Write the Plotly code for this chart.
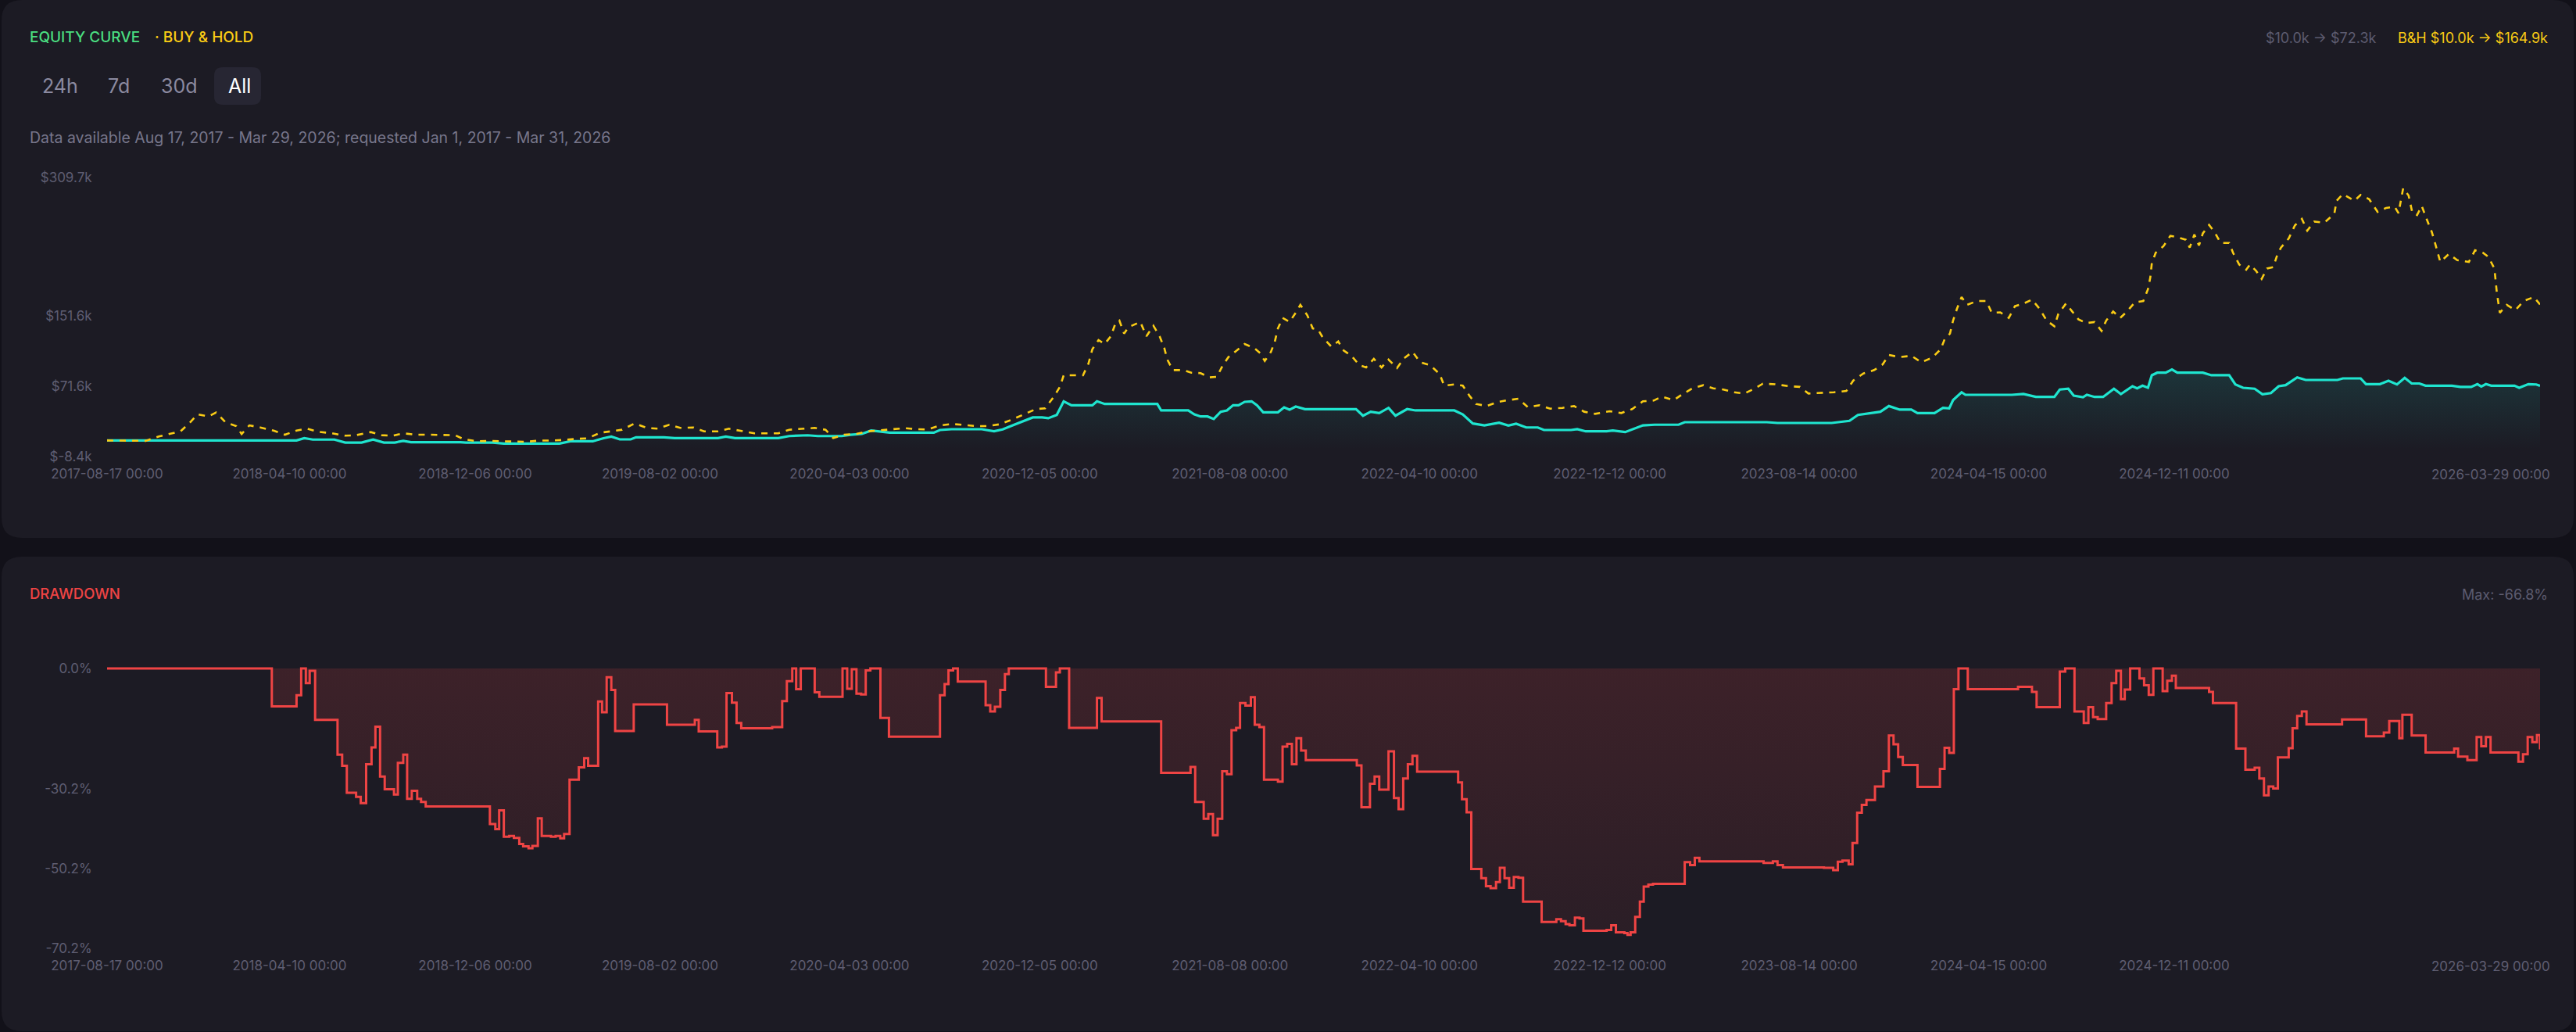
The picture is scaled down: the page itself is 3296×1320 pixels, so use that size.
import pandas as pd
import plotly.graph_objects as go

W, H = 3296, 1320
START = "2017-08-17"

# ---------------- data ----------------
x_tick_dates = ["2017-08-17", "2018-04-10", "2018-12-06", "2019-08-02", "2020-04-03",
                "2020-12-05", "2021-08-08", "2022-04-10", "2022-12-12", "2023-08-14",
                "2024-04-15", "2024-12-11"]
x_last_date = "2026-03-29"

# Buy & Hold equity (k$), by day offset from START
bh_day = [0, 35, 50, 67, 81, 95, 106, 117, 131, 141,
          153, 167, 174, 184, 198, 216, 230, 245, 259, 273,
          290, 308, 322, 341, 355, 369, 383, 400, 418, 436,
          450, 461, 478, 496, 513, 528, 542, 560, 574, 592,
          606, 621, 638, 652, 666, 682, 698, 712, 727, 741,
          758, 772, 790, 804, 819, 837, 854, 868, 882, 900,
          915, 929, 939, 953, 969, 984, 1000, 1016, 1031, 1046,
          1061, 1077, 1092, 1108, 1124, 1139, 1154, 1170, 1185, 1201,
          1213, 1224, 1232, 1237, 1251, 1262, 1269, 1274, 1282, 1290,
          1298, 1304, 1309, 1315, 1321, 1329, 1336, 1344, 1353, 1361,
          1367, 1371, 1378, 1392, 1402, 1414, 1425, 1435, 1443, 1450,
          1460, 1471, 1483, 1491, 1497, 1505, 1510, 1514, 1520, 1529,
          1537, 1543, 1552, 1559, 1566, 1572, 1583, 1592, 1599, 1609,
          1619, 1628, 1638, 1648, 1657, 1668, 1677, 1688, 1698, 1711,
          1723, 1729, 1742, 1753, 1762, 1770, 1784, 1799, 1812, 1825,
          1837, 1852, 1866, 1882, 1897, 1910, 1924, 1943, 1958, 1972,
          1986, 2000, 2010, 2026, 2036, 2050, 2064, 2077, 2090, 2104,
          2117, 2130, 2141, 2157, 2175, 2189, 2200, 2217, 2233, 2249,
          2258, 2271, 2285, 2296, 2304, 2318, 2333, 2346, 2360, 2371,
          2376, 2383, 2387, 2392, 2398, 2405, 2418, 2430, 2437, 2448,
          2459, 2467, 2478, 2489, 2499, 2508, 2518, 2523, 2533, 2541,
          2549, 2559, 2570, 2579, 2585, 2594, 2603, 2612, 2622, 2633,
          2639, 2642, 2644, 2649, 2659, 2668, 2677, 2688, 2693, 2699,
          2705, 2710, 2718, 2725, 2733, 2744, 2749, 2757, 2766, 2771,
          2779, 2786, 2793, 2801, 2806, 2811, 2821, 2829, 2838, 2845,
          2854, 2867, 2873, 2880, 2883, 2891, 2906, 2914, 2925, 2936,
          2947, 2958, 2963, 2969, 2976, 2981, 2987, 2993, 2998, 3006,
          3010, 3017, 3028, 3039, 3054, 3062, 3072, 3079, 3087, 3090,
          3094, 3103, 3114, 3125, 3138, 3146]
bh_val = [10.0, 10.0, 9.5, 14.5, 17.4, 20.4, 29.3, 39.7, 37.3, 41.8,
          30.8, 26.3, 17.4, 27.2, 24.8, 21.0, 16.5, 21.3, 23.4, 19.8,
          18.3, 15.4, 16.0, 19.5, 16.0, 15.4, 18.1, 16.5, 16.5, 16.5,
          16.0, 11.5, 9.2, 9.4, 9.2, 8.5, 8.5, 9.9, 9.9, 10.6,
          11.8, 12.4, 18.9, 20.4, 22.2, 29.3, 24.3, 23.4, 27.9, 24.3,
          24.8, 20.4, 20.4, 23.4, 21.3, 18.1, 18.1, 18.1, 22.2, 23.4,
          24.3, 22.2, 12.7, 16.5, 17.4, 20.4, 21.9, 22.8, 24.0, 22.8,
          22.5, 27.0, 28.8, 27.9, 26.4, 26.4, 28.4, 33.7, 39.7, 45.7,
          46.6, 59.6, 70.9, 84.3, 84.3, 84.3, 97.6, 113.9, 124.4, 119.9,
          128.8, 143.7, 146.6, 131.8, 139.2, 142.2, 145.1, 128.8, 140.7, 128.8,
          115.5, 102.1, 90.2, 90.2, 87.2, 86.7, 81.9, 82.5, 96.1, 105.0,
          112.5, 119.9, 115.5, 109.5, 100.6, 111.0, 122.8, 137.7, 149.6, 145.1,
          155.5, 164.5, 152.6, 137.7, 136.2, 127.3, 117.0, 122.8, 112.5, 106.5,
          96.1, 93.2, 103.0, 93.2, 102.1, 92.6, 103.6, 111.0, 99.1, 95.6,
          85.8, 72.4, 73.8, 72.4, 60.5, 51.6, 49.2, 54.0, 56.0, 57.5,
          48.0, 50.1, 46.2, 47.1, 49.2, 42.7, 40.3, 43.3, 41.2, 45.7,
          54.6, 55.5, 59.9, 56.0, 62.0, 69.4, 73.0, 69.4, 68.0, 64.9,
          63.5, 68.9, 74.7, 74.0, 71.8, 71.0, 63.5, 64.0, 64.9, 66.4,
          78.3, 86.3, 90.2, 96.7, 107.4, 105.0, 106.5, 99.1, 104.4, 113.9,
          125.2, 131.8, 146.6, 160.0, 173.4, 164.5, 168.9, 168.9, 155.5, 156.0,
          149.6, 163.0, 166.0, 170.4, 160.0, 146.6, 140.1, 154.0, 166.0, 157.0,
          148.1, 143.7, 145.0, 134.8, 146.6, 157.0, 149.6, 157.0, 167.4, 168.9,
          182.3, 195.6, 212.0, 223.9, 231.3, 243.2, 241.7, 238.7, 229.8, 244.6,
          232.2, 246.1, 255.6, 247.6, 235.1, 235.1, 223.9, 210.5, 204.6, 210.5,
          203.1, 194.1, 206.0, 207.5, 220.9, 229.8, 240.2, 255.1, 262.5, 249.1,
          259.5, 258.0, 262.5, 268.5, 283.2, 290.7, 283.2, 289.9, 285.0, 270.5,
          275.0, 276.4, 269.0, 297.5, 289.2, 269.0, 266.9, 277.3, 265.4, 247.6,
          235.7, 213.5, 222.4, 215.5, 213.5, 226.8, 223.9, 219.4, 206.0, 179.3,
          155.5, 164.5, 158.5, 168.9, 173.4, 164.9]

# Strategy equity (k$)
eq_day = [0, 209, 225, 245, 255, 266, 294, 308, 329, 344,
          358, 372, 383, 393, 457, 464, 499, 513, 585, 599,
          628, 642, 652, 663, 677, 684, 720, 734, 790, 800,
          812, 868, 882, 896, 906, 919, 950, 961, 976, 988,
          1012, 1069, 1077, 1092, 1131, 1147, 1158, 1173, 1189, 1197,
          1209, 1217, 1228, 1237, 1247, 1274, 1280, 1290, 1358, 1363,
          1398, 1406, 1414, 1423, 1431, 1440, 1448, 1456, 1463, 1471,
          1480, 1487, 1495, 1514, 1522, 1529, 1537, 1549, 1615, 1624,
          1634, 1645, 1657, 1666, 1681, 1692, 1742, 1753, 1766, 1781,
          1800, 1812, 1822, 1835, 1850, 1858, 1893, 1901, 1912, 1939,
          1947, 1963, 1986, 2001, 2032, 2040, 2146, 2160, 2230, 2241,
          2253, 2264, 2282, 2293, 2304, 2318, 2333, 2341, 2363, 2374,
          2382, 2387, 2398, 2403, 2463, 2478, 2494, 2518, 2525, 2536,
          2543, 2555, 2560, 2570, 2581, 2595, 2604, 2619, 2625, 2632,
          2639, 2644, 2651, 2662, 2670, 2677, 2710, 2721, 2744, 2752,
          2762, 2777, 2787, 2798, 2808, 2817, 2832, 2843, 2884, 2891,
          2914, 2921, 2939, 2950, 2961, 2971, 2980, 2990, 2998, 3032,
          3043, 3057, 3065, 3070, 3076, 3083, 3113, 3119, 3131, 3141,
          3146]
eq_val = [10.0, 10.0, 9.6, 10.0, 12.6, 11.0, 11.0, 7.6, 7.6, 11.0,
          7.6, 7.6, 9.5, 8.0, 8.0, 7.6, 7.6, 6.5, 6.5, 9.0,
          9.0, 12.6, 14.4, 11.2, 11.2, 13.6, 13.6, 12.6, 12.6, 14.4,
          12.6, 12.6, 15.0, 15.4, 15.9, 15.0, 15.0, 16.5, 17.4, 21.3,
          18.9, 18.9, 21.9, 22.8, 22.8, 20.4, 22.5, 27.9, 33.7, 36.2,
          36.2, 35.3, 39.1, 54.6, 50.1, 50.1, 54.6, 51.6, 51.6, 44.2,
          44.2, 39.7, 37.3, 37.3, 34.4, 42.7, 44.2, 50.1, 50.1, 54.0,
          54.6, 50.1, 42.1, 42.1, 47.7, 45.0, 48.6, 45.7, 45.7, 38.2,
          42.7, 41.2, 47.1, 38.2, 45.7, 44.2, 44.2, 39.7, 29.3, 27.2,
          30.2, 26.9, 29.0, 24.8, 24.8, 21.9, 21.9, 22.8, 20.4, 20.4,
          21.3, 19.5, 27.2, 27.9, 27.9, 30.8, 30.8, 29.9, 29.9, 30.8,
          32.3, 39.1, 41.2, 42.7, 49.2, 45.1, 45.1, 41.2, 41.2, 47.1,
          46.5, 56.0, 64.9, 62.0, 62.0, 62.9, 59.6, 59.6, 68.0, 68.9,
          61.1, 59.3, 62.0, 59.6, 59.6, 68.9, 62.9, 71.8, 69.4, 72.4,
          70.0, 84.3, 87.2, 87.2, 90.8, 87.2, 87.2, 84.3, 84.3, 73.8,
          70.0, 68.9, 62.6, 64.0, 71.8, 73.0, 81.9, 78.9, 78.9, 80.7,
          80.7, 74.2, 74.2, 78.0, 73.9, 81.3, 74.9, 74.9, 72.4, 72.4,
          71.0, 71.0, 74.2, 71.5, 74.2, 72.4, 72.4, 70.0, 74.2, 73.8,
          72.3]

# Drawdown (%), step values starting at each day offset
dd_day = [0, 213, 245, 251, 257, 262, 269, 298, 304, 310,
          322, 328, 335, 342, 347, 353, 359, 371, 376, 383,
          388, 394, 401, 406, 412, 495, 502, 507, 513, 520,
          526, 533, 538, 545, 550, 557, 562, 574, 580, 586,
          591, 598, 610, 617, 622, 635, 640, 646, 652, 657,
          681, 724, 760, 765, 789, 795, 801, 808, 814, 820,
          860, 873, 879, 886, 891, 897, 915, 921, 951, 957,
          963, 969, 975, 981, 987, 1000, 1011, 1077, 1083, 1088,
          1094, 1100, 1136, 1142, 1148, 1155, 1161, 1166, 1214, 1227,
          1232, 1244, 1280, 1286, 1363, 1401, 1407, 1418, 1424, 1430,
          1436, 1442, 1448, 1454, 1460, 1465, 1472, 1479, 1484, 1490,
          1496, 1514, 1520, 1526, 1532, 1538, 1544, 1550, 1616, 1622,
          1633, 1639, 1645, 1657, 1664, 1670, 1676, 1682, 1688, 1694,
          1747, 1752, 1758, 1764, 1777, 1783, 1789, 1796, 1801, 1807,
          1813, 1819, 1825, 1831, 1855, 1874, 1880, 1886, 1891, 1898,
          1904, 1909, 1939, 1945, 1951, 1962, 1966, 1970, 1976, 1982,
          1987, 1993, 1999, 2040, 2047, 2053, 2059, 2142, 2154, 2160,
          2167, 2220, 2232, 2238, 2244, 2252, 2257, 2263, 2269, 2275,
          2286, 2297, 2304, 2310, 2316, 2322, 2341, 2370, 2376, 2382,
          2388, 2394, 2406, 2471, 2489, 2495, 2525, 2532, 2544, 2556,
          2562, 2568, 2574, 2585, 2592, 2598, 2604, 2609, 2616, 2628,
          2634, 2640, 2646, 2658, 2664, 2670, 2675, 2718, 2723, 2753,
          2765, 2777, 2783, 2789, 2795, 2801, 2807, 2821, 2826, 2832,
          2838, 2844, 2890, 2921, 2944, 2951, 2964, 2968, 2980, 2998,
          3035, 3040, 3052, 3064, 3070, 3076, 3082, 3118, 3124, 3130,
          3136, 3142, 3146]
dd_val = [0.0, -9.5, -6.7, 0.0, -3.7, -0.6, -12.9, -21.6, -24.4, -31.2,
          -32.2, -33.8, -24.0, -19.8, -14.6, -27.1, -30.3, -31.6, -23.7, -21.6,
          -32.7, -30.7, -32.7, -33.5, -34.6, -39.0, -40.3, -35.6, -42.2, -42.0,
          -42.5, -44.0, -44.6, -45.1, -44.5, -37.6, -42.0, -42.2, -42.0, -42.6,
          -41.5, -27.9, -24.8, -22.5, -24.4, -8.3, -11.0, -2.2, -5.4, -15.7,
          -9.0, -14.1, -12.9, -15.8, -19.8, -19.6, -6.2, -8.6, -13.7, -15.0,
          -14.7, -8.2, -3.2, 0.0, -5.2, 0.0, -6.0, -7.1, 0.0, -5.1,
          -0.2, -6.3, -6.5, -0.5, 0.0, -12.4, -17.1, -6.7, -3.9, -0.5,
          0.0, -3.3, -9.2, -10.8, -9.6, -5.4, -1.4, 0.0, -4.6, -1.0,
          0.0, -14.9, -7.4, -13.3, -26.2, -24.7, -33.5, -37.7, -36.5, -41.8,
          -37.7, -25.8, -26.5, -15.5, -14.9, -8.7, -9.3, -7.2, -14.1, -14.7,
          -27.9, -28.4, -19.6, -18.9, -24.0, -17.5, -20.6, -23.0, -24.3, -34.8,
          -28.9, -27.1, -30.4, -20.8, -32.5, -35.3, -27.6, -24.0, -21.9, -25.9,
          -28.6, -32.8, -36.1, -50.3, -52.6, -54.6, -55.1, -53.6, -50.0, -52.6,
          -55.0, -52.3, -52.5, -58.5, -63.6, -62.9, -63.4, -64.1, -64.4, -62.5,
          -62.7, -65.8, -65.6, -64.4, -66.2, -66.4, -66.8, -66.2, -62.3, -58.5,
          -54.7, -54.2, -54.0, -48.6, -49.3, -47.5, -48.4, -48.8, -48.4, -49.3,
          -49.9, -50.0, -50.6, -48.5, -48.2, -49.1, -43.8, -36.2, -34.2, -33.0,
          -29.6, -25.8, -16.8, -19.0, -22.2, -24.2, -29.7, -25.2, -19.9, -21.2,
          -5.2, 0.0, -5.2, -4.6, -5.9, -9.7, -0.8, 0.0, -10.8, -13.7,
          -9.7, -12.2, -12.7, -8.7, -3.7, -0.6, -7.7, -5.3, 0.0, -2.5,
          -4.2, -6.6, 0.0, -5.7, -3.1, -1.8, -4.9, -5.9, -8.7, -20.1,
          -25.4, -24.9, -27.6, -31.8, -29.6, -30.1, -22.3, -20.0, -15.0, -11.9,
          -10.8, -14.0, -12.8, -17.0, -16.1, -13.2, -17.5, -11.6, -16.8, -21.1,
          -20.1, -22.1, -23.0, -17.2, -19.5, -17.2, -21.1, -23.4, -21.5, -17.2,
          -18.5, -16.7, -20.3]

equity_ticks = [-8.4, 71.6, 151.6, 309.7]
equity_tick_text = ["$-8.4k", "$71.6k", "$151.6k", "$309.7k"]
dd_ticks = [0.0, -30.2, -50.2, -70.2]
dd_tick_text = ["0.0%", "-30.2%", "-50.2%", "-70.2%"]

# ---------------- styles ----------------
GAP = "#121119"
PANEL = "#1c1b24"
GRID_TXT = "#5f5e72"
CYAN = "#1fe5cf"
YELLOW = "#facc15"
RED = "#ef4444"
GREEN = "#4ade80"
FONT = "Inter"

assert len(bh_day) == len(bh_val)
assert len(eq_day) == len(eq_val)
assert len(dd_day) == len(dd_val)

t0 = pd.Timestamp(START)
def to_dates(days):
    return [t0 + pd.Timedelta(days=d) for d in days]

bh_x = to_dates(bh_day)
eq_x = to_dates(eq_day)
dd_x = to_dates(dd_day)

fig = go.Figure()

fig.add_trace(go.Scatter(
    x=eq_x, y=eq_val, mode="lines", name="Equity",
    line=dict(color=CYAN, width=3.2),
    fill="tozeroy",
    fillgradient=dict(type="vertical",
                      colorscale=[[0, "rgba(31,229,207,0.0)"], [1, "rgba(31,229,207,0.13)"]]),
    xaxis="x", yaxis="y", showlegend=False, hoverinfo="skip"))

fig.add_trace(go.Scatter(
    x=bh_x, y=bh_val, mode="lines", name="Buy & Hold",
    line=dict(color=YELLOW, width=2.6, dash="8px,8px"),
    xaxis="x", yaxis="y", showlegend=False, hoverinfo="skip"))

fig.add_trace(go.Scatter(
    x=dd_x, y=dd_val, mode="lines", name="Drawdown",
    line=dict(color=RED, width=3, shape="hv"),
    fill="tozeroy",
    fillgradient=dict(type="vertical",
                      colorscale=[[0, "rgba(239,68,68,0.07)"], [1, "rgba(239,68,68,0.155)"]]),
    xaxis="x2", yaxis="y2", showlegend=False, hoverinfo="skip"))

# ---------------- layout helpers ----------------
def px(x):
    return x / W

def py(y):
    return 1 - y / H

def rrect(x0, y0, x1, y1, r, color):
    rx, ry = r / W, r / H
    X0, X1 = px(x0), px(x1)
    Y0, Y1 = py(y0), py(y1)  # Y0 top, Y1 bottom
    path = (f"M {X0+rx},{Y0} L {X1-rx},{Y0} Q {X1},{Y0} {X1},{Y0-ry} "
            f"L {X1},{Y1+ry} Q {X1},{Y1} {X1-rx},{Y1} "
            f"L {X0+rx},{Y1} Q {X0},{Y1} {X0},{Y1+ry} "
            f"L {X0},{Y0-ry} Q {X0},{Y0} {X0+rx},{Y0} Z")
    return dict(type="path", path=path, xref="paper", yref="paper",
                fillcolor=color, line=dict(width=0), layer="below")

def txt(text, x, y, size, color, anchor="left", weight=400):
    return dict(text=text, x=px(x), y=py(y), xref="paper", yref="paper",
                xanchor=anchor, yanchor="middle", showarrow=False,
                font=dict(family=FONT, size=size, color=color, weight=weight))

shapes = [
    rrect(2, 0, 3293, 688, 26, PANEL),
    rrect(2, 712, 3293, 1319, 26, PANEL),
    rrect(274, 86, 334, 134, 11, "#272633"),
]

annotations = [
    txt("EQUITY CURVE", 36, 47, 19, GREEN, weight=500),
    txt("· BUY &amp; HOLD", 196, 47, 19, YELLOW, weight=500),
    txt("$10.0k → $72.3k", 3043, 48, 18, "#5d5c70", anchor="right"),
    txt("B&amp;H $10.0k → $164.9k", 3262, 48, 18, YELLOW, anchor="right"),
    txt("24h", 52, 110, 25, "#8b8aa0"),
    txt("7d", 136, 110, 25, "#8b8aa0"),
    txt("30d", 204, 110, 25, "#8b8aa0"),
    txt("All", 290, 110, 25, "#ffffff"),
    txt("Data available Aug 17, 2017 - Mar 29, 2026; requested Jan 1, 2017 - Mar 31, 2026",
        36, 176, 19.5, "#77768b"),
    txt("DRAWDOWN", 36, 759, 18.5, RED, weight=500),
    txt("Max: -66.8%", 3262, 760, 18, "#5d5c70", anchor="right"),
    txt(x_last_date + " 00:00", 3187, 607, 17, GRID_TXT, anchor="center"),
    txt(x_last_date + " 00:00", 3187, 1236, 17, GRID_TXT, anchor="center"),
]

x_domain = [px(137), px(3250)]
x_range = [START, x_last_date]
tick_text = [d + " 00:00" for d in x_tick_dates]

xaxis_common = dict(
    type="date", range=x_range, domain=x_domain,
    tickmode="array", tickvals=x_tick_dates, ticktext=tick_text,
    showgrid=False, zeroline=False, showline=False,
    ticks="outside", ticklen=7, tickcolor="rgba(0,0,0,0)",
    tickfont=dict(family=FONT, size=17, color=GRID_TXT),
    fixedrange=True, automargin=False,
)

dd_pad = 0.6
dd_px_per = (1213 - 855) / 70.2

fig.update_layout(
    width=W, height=H,
    margin=dict(l=0, r=0, t=0, b=0, pad=0, autoexpand=False),
    paper_bgcolor=GAP, plot_bgcolor="rgba(0,0,0,0)",
    font=dict(family=FONT, color=GRID_TXT),
    showlegend=False,
    shapes=shapes,
    annotations=annotations,
    xaxis=dict(**xaxis_common, anchor="y"),
    xaxis2=dict(**xaxis_common, anchor="y2"),
    yaxis=dict(
        domain=[py(584), py(227)], range=[equity_ticks[0], equity_ticks[-1]],
        tickmode="array", tickvals=equity_ticks, ticktext=equity_tick_text,
        showgrid=False, zeroline=False, showline=False,
        ticks="outside", ticklen=15, tickcolor="rgba(0,0,0,0)",
        tickfont=dict(family=FONT, size=17, color=GRID_TXT), anchor="x",
        automargin=False, fixedrange=True,
    ),
    yaxis2=dict(
        domain=[py(1213), py(855 - dd_pad * dd_px_per)], range=[dd_ticks[-1], dd_pad],
        tickmode="array", tickvals=dd_ticks, ticktext=dd_tick_text,
        showgrid=False, zeroline=False, showline=False,
        ticks="outside", ticklen=15, tickcolor="rgba(0,0,0,0)",
        tickfont=dict(family=FONT, size=17, color=GRID_TXT), anchor="x2",
        automargin=False, fixedrange=True,
    ),
)

fig.write_html(
    "out.html",
    config={"displayModeBar": False, "responsive": False},
    post_script=("document.body.style.margin='0';"
                 "document.body.style.overflow='hidden';"
                 "document.body.style.background='#121119';"),
)
